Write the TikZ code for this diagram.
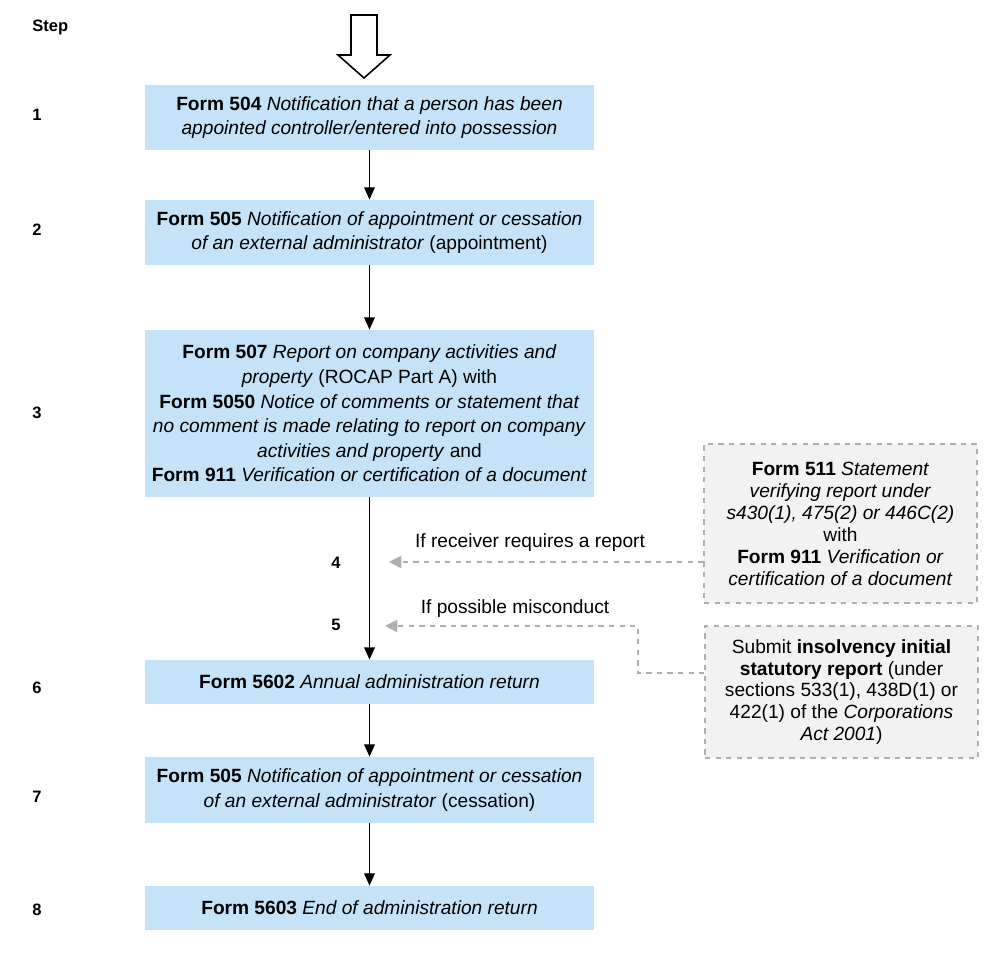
\documentclass[tikz,border=0pt]{standalone}
\usepackage{fontspec}
\setmainfont{Liberation Sans}
\usetikzlibrary{arrows.meta}

\definecolor{formblue}{RGB}{197,227,248}
\definecolor{notegray}{RGB}{242,242,242}
\definecolor{dashgray}{RGB}{175,175,175}

\tikzset{
  formbox/.style={fill=formblue, minimum width=8.98cm, align=center, inner sep=0pt,
    font=\fontsize{10.9}{14}\selectfont},
  notebox/.style={fill=notegray, draw=dashgray, dashed, line width=0.8pt, minimum width=5.46cm,
    align=center, inner sep=0pt, font=\fontsize{10.9}{12.5}\selectfont},
  steplabel/.style={font=\bfseries\fontsize{9.4}{11}\selectfont, anchor=west, inner sep=0pt},
  flow/.style={-{Triangle[length=7pt,width=6pt]}, line width=1pt},
  maybe/.style={dashgray, dashed, line width=0.8pt, -{Triangle[length=7pt,width=7pt]}},
  cond/.style={text=black, font=\fontsize{10.9}{12}\selectfont, inner sep=0pt}
}

\begin{document}
\begin{tikzpicture}[x=0.02cm, y=-0.02cm]
  \useasboundingbox (0,0) rectangle (1000,954);

  % steps
  \node[steplabel] (stephead) at (32,27) {Step};
  \node[steplabel] (s1) at (32,115) {1};
  \node[steplabel] (s2) at (32,230) {2};
  \node[steplabel] (s3) at (32,413) {3};
  \node[steplabel] (s4) at (331,563) {4};
  \node[steplabel] (s5) at (331,625) {5};
  \node[steplabel] (s6) at (32,688) {6};
  \node[steplabel] (s7) at (32,797) {7};
  \node[steplabel] (s8) at (32,910) {8};

  % entry arrow
  \draw[line width=0.9pt, fill=white] (351,15) -- (377,15) -- (377,55) -- (390,55) -- (364,78)
    -- (338,55) -- (351,55) -- cycle;

  % forms
  \node[formbox, minimum height=1.3cm] (f504) at (369.5,117.5)
    {\textbf{Form 504} \textit{Notification that a person has been}\\
     \textit{appointed controller/entered into possession}};
  \node[formbox, minimum height=1.3cm] (f505a) at (369.5,232.5)
    {\textbf{Form 505} \textit{Notification of appointment or cessation}\\
     \textit{of an external administrator} (appointment)};
  \node[formbox, minimum height=3.34cm] (f507) at (369.5,413.5)
    {\textbf{Form 507} \textit{Report on company activities and}\\
     \textit{property} (ROCAP Part A) with\\
     \textbf{Form 5050} \textit{Notice of comments or statement that}\\
     \textit{no comment is made relating to report on company}\\
     \textit{activities and property} and\\
     \textbf{Form 911} \textit{Verification or certification of a document}};
  \node[formbox, minimum height=0.88cm] (f5602) at (369.5,682)
    {\textbf{Form 5602} \textit{Annual administration return}};
  \node[formbox, minimum height=1.32cm] (f505c) at (369.5,790)
    {\textbf{Form 505} \textit{Notification of appointment or cessation}\\
     \textit{of an external administrator} (cessation)};
  \node[formbox, minimum height=0.88cm] (f5603) at (369.5,908)
    {\textbf{Form 5603} \textit{End of administration return}};

  % side documents
  \node[notebox, minimum height=3.18cm] (f511) at (840.5,523.5)
    {\textbf{Form 511} \textit{Statement}\\
     \textit{verifying report under}\\
     \textit{s430(1), 475(2) or 446C(2)}\\
     with\\
     \textbf{Form 911} \textit{Verification or}\\
     \textit{certification of a document}};
  \node[notebox, minimum height=2.64cm] (isr) at (841.5,692)
    {Submit \textbf{insolvency initial}\\
     \textbf{statutory report} (under\\
     sections 533(1), 438D(1) or\\
     422(1) of the \textit{Corporations}\\
     \textit{Act 2001})};

  \draw[flow] (f504) -- (f505a);
  \draw[flow] (f505a) -- (f507);
  \draw[flow] (f507) -- (f5602);
  \draw[flow] (f5602) -- (f505c);
  \draw[flow] (f505c) -- (f5603);

  % optional steps
  \coordinate (in4) at (389,562);
  \coordinate (in5) at (385,626);
  \coordinate (turn5) at (638,673);
  \draw[maybe] (f511.west |- in4) -- (in4);
  \draw[maybe] (isr.west |- turn5) -- (turn5) |- (in5);
  \node[cond] (ifreport) at (530,543) {If receiver requires a report};
  \node[cond] (miscond) at (515,609) {If possible misconduct};
\end{tikzpicture}
\end{document}
